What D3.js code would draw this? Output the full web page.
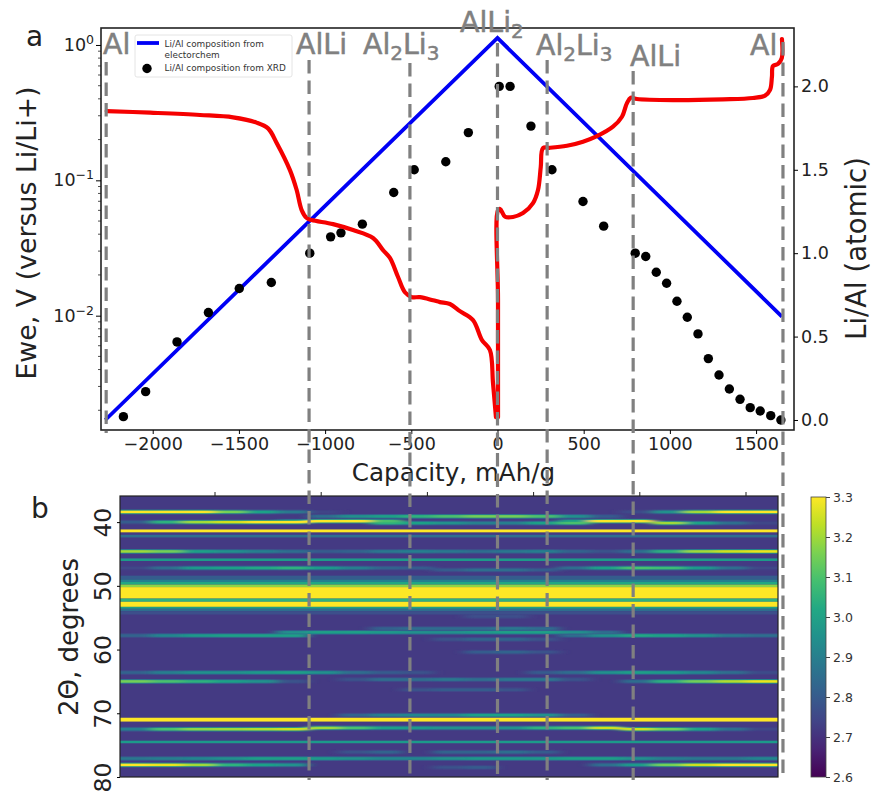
<!DOCTYPE html>
<html>
<head>
<meta charset="utf-8">
<script src="https://cdn.jsdelivr.net/npm/d3@7"></script>
<style>
  html, body { margin: 0; padding: 0; background: #fff; }
  svg { display: block; font-family: "DejaVu Sans", sans-serif; }
</style>
</head>
<body>
<svg id="chart" width="877" height="793"></svg>
<script>
// === Data ===
const capacityTicks = [-2000, -1500, -1000, -500, 0, 500, 1000, 1500];
const voltageDecades = [1, 0.1, 0.01];
const voltageDecadeLabels = ["0", "−1", "−2"];
const voltageMinors = [0.002, 0.003, 0.004, 0.005, 0.006, 0.007, 0.008, 0.009,
  0.02, 0.03, 0.04, 0.05, 0.06, 0.07, 0.08, 0.09, 0.2, 0.3, 0.4, 0.5, 0.6, 0.7, 0.8, 0.9];
const ratioTicks = [0, 0.5, 1, 1.5, 2];
const thetaTicks = [40, 50, 60, 70, 80];
const colorTicks = [2.6, 2.7, 2.8, 2.9, 3.0, 3.1, 3.2, 3.3];

// red curve, lithiation part: capacity, Ewe
const voltageDown = [
  [-2267, .325], [-2015, .316], [-1726, .304], [-1534, .292], [-1397, .267], [-1331, .242], [-1281, .189],
  [-1204, .119], [-1165, .0848], [-1136, .0603], [-1107, .0527], [-1078, .0509], [-954, .0475], [-838, .0429],
  [-722, .0375], [-664, .0305], [-624, .0267], [-577, .0193], [-537, .0149], [-496, .0137], [-450, .0137],
  [-374, .013], [-334, .0126], [-276, .0122], [-218, .0108], [-142, .00927], [-90, .0066], [-44, .00557],
  [-26, .00318], [-9, .00178]
];
// red curve, delithiation part: capacity, Ewe
const voltageUp = [
  [3, .00178], [3, .013], [3, .0603], [15, .0614], [44, .0538], [90, .0536],
  [148, .0573], [206, .0679], [235, .0848], [251, .1254], [264, .173], [305, .174], [403, .18], [496, .193],
  [577, .212], [670, .249], [722, .295], [751, .372], [773, .408], [809, .399], [1018, .392], [1308, .397],
  [1482, .406], [1552, .422], [1581, .465], [1592, .583], [1598, .7], [1627, .724], [1649, .8], [1650, 1.107]
];

// blue line: capacity, Li/Al
const compositionLine = [[-2275, 0], [0, 2.29], [1650, 0.62]];

// black dots: capacity, Li/Al
const xrdPoints = [
  [-2170, .02], [-2041, .17], [-1859, .468], [-1677, .644], [-1498, .788], [-1312, .824], [-1089, 1.0],
  [-968, 1.098], [-908, 1.122], [-784, 1.174], [-602, 1.364], [-483, 1.5], [-300, 1.548], [-169, 1.723],
  [10, 2.0], [73, 2.0], [194, 1.762], [316, 1.5], [496, 1.31], [616, 1.162], [799, 1.0], [860, .98],
  [921, .886], [981, .82], [1041, .712], [1101, .616], [1163, .516], [1223, .368], [1285, .27], [1345, .186],
  [1407, .124], [1466, .074], [1524, .054], [1585, .026], [1644, 0]
];

const phaseCapacities = [-2270, -1093, -508, 0, 288, 787, 1656];
const phaseNames = [
  [["Al"]],
  [["AlLi"]],
  [["Al"], ["2", 1], ["Li"], ["3", 1]],
  [["AlLi"], ["2", 1]],
  [["Al"], ["2", 1], ["Li"], ["3", 1]],
  [["AlLi"]],
  [["Al"]]
];

// heat map: stripes that run across all scans (from 2theta, to 2theta, value)
const heatBackground = 2.72;
const heatStripes = [
  [41.15, 41.6, 3.3], [42, 42.4, 2.85], [45.7, 46.1, 2.98],
  [48.4, 49, 2.8], [49, 49.4, 2.9], [49.4, 49.8, 3.02], [49.8, 50.2, 3.18], [50.2, 52, 3.3],
  [52, 52.5, 3.05], [52.5, 53.3, 3.3], [53.3, 53.6, 3.0], [53.6, 54, 2.85], [54, 54.5, 2.77],
  [70.7, 71.3, 3.3], [74.3, 74.7, 2.98]
];
// heat map: peaks that change along the scans (2theta, value per scan column)
const heatPeaks = [
  [38.4, [3.3, 3.3, 3.3, 3.15, 3.0, 2.88, 2.74, 2.72, 2.72, 2.72, 2.72, 2.72, 2.72, 2.72, 2.72, 2.72, 2.76, 2.95, 3.2, 3.3, 3.3]],
  [39.1, [2.72, 2.72, 2.72, 2.72, 2.72, 2.72, 2.85, 2.95, 3.0, 3.05, 3.1, 3.15, 3.15, 3.1, 2.95, 2.8, 2.72, 2.72, 2.72, 2.72, 2.72]],
  [39.85, [2.72, 2.72, 2.72, 2.72, 2.72, 3.0, 3.3, 3.3, 3.1, 2.72, 2.72, 2.72, 2.72, 2.72, 3.0, 3.3, 3.3, 2.72, 2.72, 2.72, 2.72]],
  [40.0, [2.8, 3.05, 3.2, 3.25, 3.3, 3.3, 2.72, 2.72, 2.72, 2.72, 2.72, 2.72, 2.72, 2.72, 2.72, 2.72, 2.72, 2.72, 2.72, 2.72, 2.72]],
  [40.15, [2.72, 2.72, 2.72, 2.72, 2.72, 2.72, 2.72, 2.72, 3.05, 3.0, 2.95, 2.9, 2.9, 3.0, 3.1, 2.72, 2.72, 3.2, 3.0, 2.85, 2.75]],
  [44.6, [3.2, 3.15, 3.0, 2.95, 2.9, 2.85, 2.8, 2.82, 2.88, 2.9, 2.88, 2.85, 2.88, 2.9, 2.82, 2.78, 2.85, 3.05, 3.2, 3.25, 3.28]],
  [47.2, [2.75, 2.85, 2.98, 3.0, 3.02, 3.05, 2.98, 2.9, 2.82, 2.8, 2.72, 2.72, 2.72, 2.72, 2.85, 3.0, 3.1, 3.08, 2.98, 2.85, 2.75]],
  [47.5, [2.72, 2.72, 2.72, 2.72, 2.72, 2.72, 2.72, 2.72, 2.72, 2.72, 2.8, 2.85, 2.85, 2.8, 2.72, 2.72, 2.72, 2.72, 2.72, 2.72, 2.72]],
  [54.8, [2.72, 2.72, 2.72, 2.72, 2.72, 2.72, 2.72, 2.72, 2.72, 2.72, 2.72, 2.77, 2.77, 2.72, 2.72, 2.72, 2.72, 2.72, 2.72, 2.72, 2.72]],
  [56.7, [2.72, 2.72, 2.72, 2.72, 2.72, 2.72, 2.72, 2.72, 2.82, 2.85, 2.85, 2.85, 2.88, 2.85, 2.72, 2.72, 2.72, 2.72, 2.72, 2.72, 2.72]],
  [57.3, [2.72, 2.72, 2.72, 2.72, 2.72, 2.95, 3.0, 3.0, 2.98, 2.95, 2.95, 2.98, 3.0, 3.0, 2.95, 2.85, 2.72, 2.72, 2.72, 2.72, 2.72]],
  [57.8, [2.82, 2.92, 2.98, 3.0, 3.0, 3.0, 2.72, 2.72, 2.72, 2.72, 2.72, 2.72, 2.72, 2.72, 2.85, 2.95, 3.02, 3.0, 2.95, 2.88, 2.85]],
  [58.4, [2.72, 2.72, 2.72, 2.72, 2.72, 2.72, 2.72, 2.72, 2.72, 2.72, 2.78, 2.82, 2.82, 2.78, 2.72, 2.72, 2.72, 2.72, 2.72, 2.72, 2.72]],
  [60.4, [2.72, 2.72, 2.72, 2.72, 2.72, 2.72, 2.72, 2.72, 2.72, 2.72, 2.72, 2.8, 2.82, 2.78, 2.72, 2.72, 2.72, 2.72, 2.72, 2.72, 2.72]],
  [63.6, [2.82, 2.9, 2.95, 2.95, 2.98, 3.0, 2.95, 2.85, 2.8, 2.78, 2.72, 2.72, 2.72, 2.8, 2.85, 2.95, 3.0, 2.98, 2.92, 2.85, 2.76]],
  [64.7, [2.72, 2.72, 2.72, 2.72, 2.72, 2.72, 2.72, 2.78, 2.85, 2.85, 2.88, 2.85, 2.88, 2.88, 2.78, 2.72, 2.72, 2.72, 2.72, 2.72, 2.72]],
  [65.0, [3.15, 3.1, 3.05, 3.0, 2.95, 2.78, 2.72, 2.72, 2.72, 2.72, 2.72, 2.72, 2.72, 2.72, 2.72, 2.72, 2.85, 3.05, 3.15, 3.22, 3.28]],
  [66.3, [2.72, 2.72, 2.72, 2.72, 2.72, 2.72, 2.72, 2.72, 2.72, 2.78, 2.8, 2.8, 2.78, 2.72, 2.72, 2.72, 2.72, 2.72, 2.72, 2.72, 2.72]],
  [70.3, [2.72, 2.72, 2.72, 2.72, 2.72, 2.72, 2.72, 2.82, 2.9, 2.92, 2.92, 3.0, 3.0, 2.95, 2.8, 2.72, 2.72, 2.72, 2.72, 2.72, 2.72]],
  [72.3, [2.72, 2.72, 2.72, 2.72, 2.72, 2.72, 3.2, 3.1, 3.0, 2.98, 2.95, 2.95, 2.95, 3.05, 3.1, 3.25, 2.72, 2.72, 2.72, 2.72, 2.72]],
  [72.5, [2.9, 3.1, 3.18, 3.2, 3.22, 3.25, 2.72, 2.72, 2.72, 2.72, 2.72, 2.72, 2.72, 2.72, 2.72, 2.72, 3.25, 3.15, 3.0, 2.85, 2.75]],
  [76.1, [2.72, 2.72, 2.72, 2.72, 2.72, 2.72, 2.72, 2.78, 2.82, 2.72, 2.82, 2.82, 2.85, 2.8, 2.72, 2.72, 2.72, 2.72, 2.72, 2.72, 2.72]],
  [77.1, [2.88, 2.9, 2.92, 2.95, 3.0, 3.0, 2.98, 2.95, 2.92, 2.92, 2.95, 2.98, 2.98, 2.98, 3.0, 3.0, 2.95, 2.9, 2.88, 2.88, 2.92]],
  [78.1, [3.3, 3.28, 3.2, 3.05, 3.0, 2.95, 2.72, 2.72, 2.72, 2.72, 2.72, 2.72, 2.72, 2.72, 2.72, 2.85, 2.98, 3.15, 3.25, 3.3, 3.3]],
  [78.5, [2.72, 2.72, 2.72, 2.72, 2.72, 2.72, 2.72, 2.72, 2.72, 2.72, 2.78, 2.8, 2.72, 2.72, 2.72, 2.72, 2.72, 2.72, 2.72, 2.72, 2.72]]
];
const heatColumns = d3.range(heatPeaks[0][1].length);

// === Layout ===
const panel = { left: 101, right: 794, top: 28, bottom: 430 };
const heat = { left: 120, right: 778, top: 496, bottom: 777 };
const bar = { left: 811, right: 826, top: 497, bottom: 777 };
// label anchor x, baseline y and where each dashed line starts
const phaseLayout = [
  { labelX: 103, labelY: 54, lineTop: 62 },
  { labelX: 296, labelY: 54, lineTop: 60 },
  { labelX: 363, labelY: 54, lineTop: 63 },
  { labelX: 460, labelY: 32, lineTop: 43 },
  { labelX: 536, labelY: 55, lineTop: 60 },
  { labelX: 630, labelY: 66, lineTop: 71 },
  { labelX: 750, labelY: 55, lineTop: 42 }
];
const heatTopTicks = [0, 1, 2, 3, 4, 5];

const svg = d3.select("#chart");
const textColor = "#222";

const x = d3.scaleLinear().domain([-2300, 1720]).range([panel.left, panel.right]);
const yVolt = d3.scaleLog().domain([0.00143, 1.335]).range([panel.bottom, panel.top]);
const yRatio = d3.scaleLinear().domain([-0.06, 2.35]).range([panel.bottom, panel.top]);
const color = d3.scaleSequential(d3.interpolateViridis).domain([2.6, 3.3]);

// === Heat map ===
function drawHeatMap() {
  const defs = svg.append("defs");
  defs.append("clipPath").attr("id", "heat-clip").append("rect")
    .attr("x", heat.left).attr("y", heat.top)
    .attr("width", heat.right - heat.left).attr("height", heat.bottom - heat.top);
  defs.append("filter").attr("id", "heat-blur")
    .attr("filterUnits", "userSpaceOnUse")
    .attr("x", 0).attr("y", heat.top - 20).attr("width", 877).attr("height", heat.bottom - heat.top + 40)
    .append("feGaussianBlur").attr("stdDeviation", "6 0.4");

  const xCol = d3.scaleBand().domain(heatColumns).range([heat.left, heat.right]);
  const yTheta = d3.scaleLinear().domain([35.9, 80]).range([heat.top, heat.bottom]);

  const outer = svg.append("g").attr("clip-path", "url(#heat-clip)");
  outer.append("rect")
    .attr("x", heat.left).attr("y", heat.top)
    .attr("width", heat.right - heat.left).attr("height", heat.bottom - heat.top)
    .attr("fill", color(heatBackground));
  const g = outer.append("g").attr("filter", "url(#heat-blur)");

  // first and last column run past the frame so the blur does not fade at the edges
  const cellX = c => c === 0 ? xCol(c) - 40 : xCol(c);
  const cellW = c => (c === 0 || c === heatColumns.length - 1) ? xCol.bandwidth() + 40 : xCol.bandwidth();

  const cells = [];
  heatPeaks.forEach(([theta, values]) => {
    values.forEach((v, c) => { if (v > heatBackground) cells.push({ theta, v, c }); });
  });

  // soft skirt round each peak, then the peak itself
  g.selectAll(".skirt").data(cells).enter().append("rect")
    .attr("x", d => cellX(d.c))
    .attr("width", d => cellW(d.c))
    .attr("y", d => yTheta(d.theta - 0.36))
    .attr("height", yTheta(0.72) - yTheta(0))
    .attr("fill", d => color(heatBackground + (d.v - heatBackground) * 0.4));

  g.selectAll(".stripe").data(heatStripes).enter().append("rect")
    .attr("x", heat.left - 40)
    .attr("width", heat.right - heat.left + 80)
    .attr("y", d => yTheta(d[0]))
    .attr("height", d => yTheta(d[1]) - yTheta(d[0]))
    .attr("fill", d => color(d[2]));

  g.selectAll(".peak").data(cells.slice().sort((a, b) => a.v - b.v)).enter().append("rect")
    .attr("x", d => cellX(d.c))
    .attr("width", d => cellW(d.c))
    .attr("y", d => yTheta(d.theta - 0.2))
    .attr("height", yTheta(0.4) - yTheta(0))
    .attr("fill", d => color(d.v));

  svg.append("rect")
    .attr("x", heat.left).attr("y", heat.top)
    .attr("width", heat.right - heat.left).attr("height", heat.bottom - heat.top)
    .attr("fill", "none").attr("stroke", "#222").attr("stroke-width", 1.2);

  // top ticks
  const xTick = d3.scaleLinear().domain([0, 5]).range([215, 746]);
  svg.selectAll(".heat-top").data(heatTopTicks).enter().append("line")
    .attr("x1", d => xTick(d)).attr("x2", d => xTick(d))
    .attr("y1", heat.top - 4).attr("y2", heat.top)
    .attr("stroke", "#222").attr("stroke-width", 1);

  // theta axis with rotated labels
  const axis = svg.append("g").attr("transform", `translate(${heat.left},0)`)
    .call(d3.axisLeft(yTheta).tickValues(thetaTicks).tickSize(3).tickFormat(d3.format("d")));
  axis.select(".domain").remove();
  axis.selectAll("text")
    .attr("font-family", "DejaVu Sans").attr("font-size", 23.5).attr("fill", textColor)
    .attr("text-anchor", "middle")
    .attr("x", 0).attr("y", 0).attr("dy", 0)
    .attr("transform", "translate(-9,0) rotate(-90)");

  svg.append("text").attr("transform", "translate(78,637) rotate(-90)")
    .attr("text-anchor", "middle").attr("font-size", 26).attr("fill", textColor)
    .text("2Θ, degrees");
}

// === Colour bar ===
function drawColorBar() {
  const yBar = d3.scaleLinear().domain([2.6, 3.3]).range([bar.bottom, bar.top]);
  const grad = svg.select("defs").append("linearGradient").attr("id", "bar-grad")
    .attr("x1", 0).attr("x2", 0).attr("y1", 1).attr("y2", 0);
  d3.range(0, 1.01, 0.1).forEach(t => {
    grad.append("stop").attr("offset", t).attr("stop-color", d3.interpolateViridis(t));
  });
  svg.append("rect")
    .attr("x", bar.left).attr("y", bar.top)
    .attr("width", bar.right - bar.left).attr("height", bar.bottom - bar.top)
    .attr("fill", "url(#bar-grad)").attr("stroke", "#444").attr("stroke-width", 0.8);

  const axis = svg.append("g").attr("transform", `translate(${bar.right},0)`)
    .call(d3.axisRight(yBar).tickValues(colorTicks).tickSize(4).tickFormat(d3.format(".1f")));
  axis.select(".domain").remove();
  axis.selectAll("line").attr("stroke", "#444");
  axis.selectAll("text").attr("font-family", "DejaVu Sans").attr("font-size", 12.5).attr("fill", "#333");
}

// === Top panel ===
function drawTopPanel() {
  svg.append("path").datum(compositionLine)
    .attr("fill", "none").attr("stroke", "#0000f5").attr("stroke-width", 3.8)
    .attr("d", d3.line().x(d => x(d[0])).y(d => yRatio(d[1])));

  svg.selectAll(".xrd").data(xrdPoints).enter().append("circle")
    .attr("cx", d => x(d[0])).attr("cy", d => yRatio(d[1]))
    .attr("r", 4.7).attr("fill", "#000");

  const voltageLine = d3.line().curve(d3.curveCatmullRom.alpha(0.5)).x(d => x(d[0])).y(d => yVolt(d[1]));
  [voltageDown, voltageUp].forEach(part => {
    svg.append("path").datum(part)
      .attr("fill", "none").attr("stroke", "#f50000").attr("stroke-width", 4.2)
      .attr("stroke-linejoin", "round").attr("stroke-linecap", "round")
      .attr("d", voltageLine);
  });

  svg.append("rect")
    .attr("x", panel.left).attr("y", panel.top)
    .attr("width", panel.right - panel.left).attr("height", panel.bottom - panel.top)
    .attr("fill", "none").attr("stroke", "#222").attr("stroke-width", 1.6);

  const xAxis = svg.append("g").attr("transform", `translate(0,${panel.bottom})`)
    .call(d3.axisBottom(x).tickValues(capacityTicks).tickSize(4).tickPadding(4).tickFormat(d3.format("d")));
  xAxis.select(".domain").remove();
  xAxis.selectAll("text").attr("font-family", "DejaVu Sans").attr("font-size", 17.5).attr("fill", textColor);

  const yLeft = svg.append("g").attr("transform", `translate(${panel.left},0)`)
    .call(d3.axisLeft(yVolt).tickValues(voltageDecades).tickSize(5).tickFormat(""));
  yLeft.select(".domain").remove();
  svg.selectAll(".minor").data(voltageMinors).enter().append("line")
    .attr("x1", panel.left - 3).attr("x2", panel.left)
    .attr("y1", d => yVolt(d)).attr("y2", d => yVolt(d))
    .attr("stroke", "#222").attr("stroke-width", 0.8);
  voltageDecades.forEach((v, i) => {
    const t = svg.append("text").attr("x", panel.left - 7).attr("y", yVolt(v) + 6)
      .attr("text-anchor", "end").attr("font-size", 17.5).attr("fill", textColor);
    t.append("tspan").text("10");
    t.append("tspan").attr("dy", -7).attr("font-size", 12.5).text(voltageDecadeLabels[i]);
  });

  const yRight = svg.append("g").attr("transform", `translate(${panel.right},0)`)
    .call(d3.axisRight(yRatio).tickValues(ratioTicks).tickSize(4).tickFormat(d3.format(".1f")));
  yRight.select(".domain").remove();
  yRight.selectAll("text").attr("font-family", "DejaVu Sans").attr("font-size", 17.5).attr("fill", textColor);

  svg.append("text").attr("x", 453.5).attr("y", 481)
    .attr("text-anchor", "middle").attr("font-size", 24.6).attr("fill", textColor)
    .text("Capacity, mAh/g");
  svg.append("text").attr("transform", "translate(36,233) rotate(-90)")
    .attr("text-anchor", "middle").attr("font-size", 26.8).attr("fill", textColor)
    .text("Ewe, V (versus Li/Li+)");
  svg.append("text").attr("transform", "translate(866,248.5) rotate(-90)")
    .attr("text-anchor", "middle").attr("font-size", 27.5).attr("fill", textColor)
    .text("Li/Al (atomic)");

  svg.append("text").attr("x", 26).attr("y", 46).attr("font-size", 28).attr("fill", textColor).text("a");
  svg.append("text").attr("x", 31).attr("y", 518).attr("font-size", 28).attr("fill", textColor).text("b");
}

// === Legend ===
function drawLegend() {
  const g = svg.append("g").attr("transform", "translate(135,35)");
  g.append("rect").attr("width", 157).attr("height", 42).attr("rx", 2)
    .attr("fill", "#fff").attr("fill-opacity", 0.85).attr("stroke", "#ddd").attr("stroke-width", 0.8);
  g.append("line").attr("x1", 2).attr("x2", 24).attr("y1", 8).attr("y2", 8)
    .attr("stroke", "#0000f5").attr("stroke-width", 3.8);
  g.append("circle").attr("cx", 12).attr("cy", 33.5).attr("r", 4.7).attr("fill", "#000");
  const lines = [["Li/Al composition from", 11.5], ["electorchem", 23], ["Li/Al composition from XRD", 36]];
  g.selectAll(".lg").data(lines).enter().append("text")
    .attr("x", 29.5).attr("y", d => d[1])
    .attr("font-size", 8.9).attr("fill", "#333").text(d => d[0]);
}

// === Phase markers ===
function drawPhases() {
  svg.selectAll(".phase-line").data(phaseCapacities).enter().append("line")
    .attr("x1", d => x(d)).attr("x2", d => x(d))
    .attr("y1", (d, i) => phaseLayout[i].lineTop)
    .attr("y2", (d, i) => i === 0 ? panel.bottom + 3 : 780)
    .attr("stroke", "#808080").attr("stroke-width", 3.2)
    .attr("stroke-dasharray", "13.5 7");

  phaseNames.forEach((parts, i) => {
    const t = svg.append("text")
      .attr("x", phaseLayout[i].labelX).attr("y", phaseLayout[i].labelY)
      .attr("font-size", 28.4).attr("fill", "#808080")
      .attr("stroke", "#808080").attr("stroke-width", 0.5);
    let shifted = false;
    parts.forEach(([s, sub]) => {
      const span = t.append("tspan").text(s);
      if (sub) { span.attr("font-size", 20).attr("dy", 6); shifted = true; }
      else if (shifted) { span.attr("dy", -6); shifted = false; }
    });
  });
}

drawHeatMap();
drawColorBar();
drawTopPanel();
drawLegend();
drawPhases();
</script>
</body>
</html>
